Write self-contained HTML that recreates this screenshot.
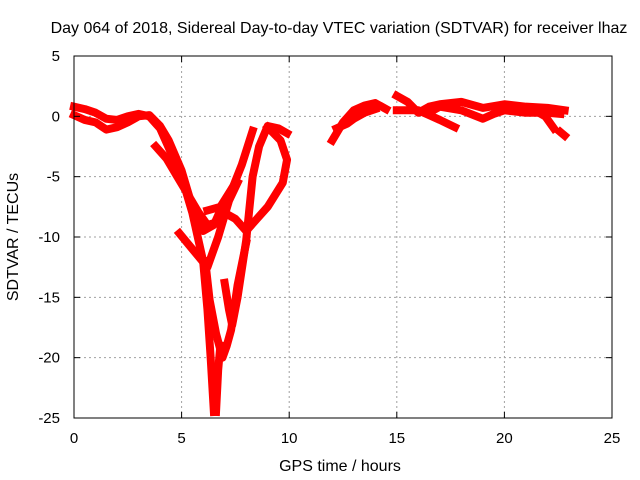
<!DOCTYPE html>
<html><head><meta charset="utf-8"><style>
body{margin:0;background:#fff}
svg{display:block;font-family:"Liberation Sans",sans-serif}
</style></head><body>
<svg id="c" width="640" height="480"></svg>
<script>
const xTicks=[0,5,10,15,20,25];
const yTicks=[5,0,-5,-10,-15,-20,-25];
const trackL1=[[0,0.8],[0.5,0.6],[1,0.3],[1.5,-0.2],[2,-0.3],[2.5,0],[3,0.2],[3.5,0],[4,-1],[4.5,-3],[5,-5],[5.5,-8],[6,-12],[6.2,-16],[6.35,-20],[6.5,-24.5]];
const trackL2=[[0,0.1],[0.5,-0.3],[1,-0.5],[1.5,-1.1],[2,-0.9],[2.5,-0.5],[3,0],[3.5,0.1],[4,-0.8],[4.4,-2],[5,-4.5],[5.5,-7.5],[6,-9.5],[6.5,-9],[7,-7],[7.5,-5.5]];
const trackL3=[[3.8,-2.5],[4.3,-3.5],[4.8,-5],[5.3,-6.5],[5.8,-8],[6.2,-9],[6.6,-8.8]];
const trackA=[[4.9,-9.7],[5.5,-11],[6.2,-12.5],[6.7,-10],[7.2,-7],[7.6,-5.5]];
const trackB=[[6.2,-7.8],[6.8,-7.5],[7.4,-5.8],[7.8,-4],[8.3,-1.2]];
const trackC=[[6.1,-12],[6.3,-15.2],[6.6,-18],[6.9,-20],[7.1,-19],[7.3,-17.7],[7.6,-14],[8,-10.5]];
const trackD=[[7.0,-13.8],[7.2,-16],[7.35,-17.3],[7.6,-15],[8.0,-10.3],[8.3,-5],[8.6,-2.5],[9.0,-0.8],[9.5,-1],[9.9,-1.4]];
const trackE=[[9.0,-0.9],[9.6,-2],[9.9,-3.6],[9.7,-5.5],[9.0,-7.5],[8.5,-8.5],[8.0,-9.5],[7.5,-8.5],[7.0,-8]];
const trackF=[[6.6,-24.5],[6.7,-21],[6.8,-19]];
const trackR1=[[12,-2],[12.5,-0.5],[13,0.5],[13.5,0.9],[14,1.1],[14.5,0.6]];
const trackR2=[[12.2,-1],[12.7,-0.6],[13,-0.2],[13.5,0.3],[14,0.6]];
const trackR3=[[15,1.7],[15.5,1.2],[16,0.3],[16.5,0.8],[17,1],[18,1.2],[19,0.7],[20,1],[21,0.8],[22,0.7],[22.8,0.5]];
const trackR4=[[15,0.5],[16,0.5],[16.5,0.1],[17,-0.3],[17.7,-0.9]];
const trackR5=[[16.5,0.3],[17,0.8],[18,0.5],[19,-0.2],[19.5,0.2],[20,0.5],[21,0.3],[22,0.3],[22.6,0.2]];
const trackR6=[[22.6,-1.3],[22.8,-1.6]];
const trackR7=[[21.4,0.5],[21.9,0],[22.3,-1]];
const tracks=[trackL1,trackL2,trackL3,trackA,trackB,trackC,trackD,trackE,trackF,trackR1,trackR2,trackR3,trackR4,trackR5,trackR6,trackR7];

const X0=74,X1=612,Y0=56,Y1=418;
const sx=v=>X0+(v-0)/25*(X1-X0);
const sy=v=>Y0+(5-v)/30*(Y1-Y0);
const NS="http://www.w3.org/2000/svg";
const svg=document.getElementById('c');
function mk(t,a,p){const e=document.createElementNS(NS,t);for(const k in a)e.setAttribute(k,a[k]);(p||svg).appendChild(e);return e;}

const grid=mk('g',{});


xTicks.forEach(v=>{if(v>0&&v<25)mk('line',{x1:sx(v),x2:sx(v),y1:Y0,y2:Y1,stroke:'#a0a0a0','stroke-dasharray':'2,3'},grid);});
yTicks.forEach(v=>{if(v<5&&v>-25)mk('line',{x1:X0,x2:X1,y1:sy(v),y2:sy(v),stroke:'#a0a0a0','stroke-dasharray':'2,3'},grid);});

const data=mk('g',{});


tracks.forEach(tr=>{
  const pl=mk('polyline',{points:tr.map(p=>sx(p[0])+','+sy(p[1])).join(' '),fill:'none',stroke:'#ff0000','stroke-width':8,'stroke-linejoin':'round','stroke-linecap':'square'},data);
  
  
});

const ax=mk('g',{});


mk('rect',{x:X0,y:Y0,width:X1-X0,height:Y1-Y0,fill:'none',stroke:'#000','stroke-width':1},ax);
xTicks.forEach(v=>{
  mk('line',{x1:sx(v),x2:sx(v),y1:Y1,y2:Y1-6,stroke:'#000'},ax);
  mk('line',{x1:sx(v),x2:sx(v),y1:Y0,y2:Y0+6,stroke:'#000'},ax);
  const t=mk('text',{x:sx(v),y:Y1+25,'text-anchor':'middle','font-size':15,fill:'#000'},ax);
  t.textContent=v;
  
  
});
yTicks.forEach(v=>{
  mk('line',{x1:X0,x2:X0+6,y1:sy(v),y2:sy(v),stroke:'#000'},ax);
  mk('line',{x1:X1,x2:X1-6,y1:sy(v),y2:sy(v),stroke:'#000'},ax);
  const t=mk('text',{x:X0-14,y:sy(v)+5,'text-anchor':'end','font-size':15,fill:'#000'},ax);
  t.textContent=v;
  
  
});
const title=mk('text',{x:339,y:33,'text-anchor':'middle','font-size':16,fill:'#000'});
title.textContent='Day 064 of 2018, Sidereal Day-to-day VTEC variation (SDTVAR) for receiver lhaz';


const xt=mk('text',{x:340,y:471,'text-anchor':'middle','font-size':16,fill:'#000'});
xt.textContent='GPS time / hours';


const yt=mk('text',{x:18,y:237,'text-anchor':'middle','font-size':16,fill:'#000',transform:'rotate(-90 18 237)'});
yt.textContent='SDTVAR / TECUs';


</script>
</body></html>
